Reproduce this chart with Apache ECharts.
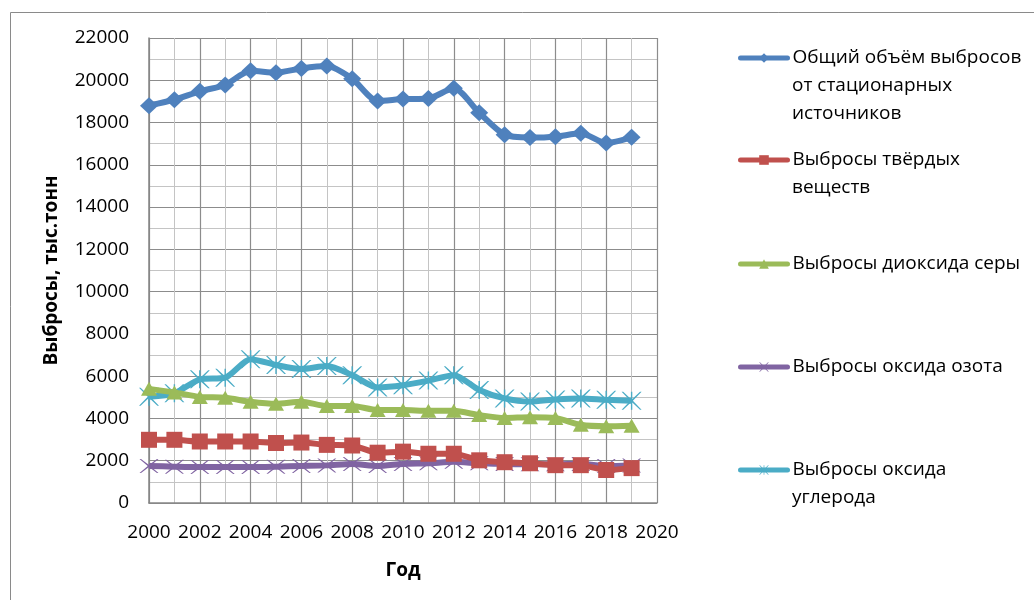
<!DOCTYPE html>
<html>
<head>
<meta charset="utf-8">
<script src="https://cdn.jsdelivr.net/npm/echarts@6/dist/echarts.min.js"></script>
<style>
  html, body { margin: 0; padding: 0; background: #fff; }
  #chart { width: 1034px; height: 600px; }
</style>
</head>
<body>
<div id="chart"></div>
<script>
const years = [2000, 2001, 2002, 2003, 2004, 2005, 2006, 2007, 2008, 2009,
  2010, 2011, 2012, 2013, 2014, 2015, 2016, 2017, 2018, 2019]

// выбросы, тыс. тонн
const total = [18800, 19080, 19480, 19780, 20450, 20360, 20560, 20670, 20070, 19020,
  19110, 19140, 19620, 18460, 17420, 17290, 17330, 17490, 17030, 17300]
const solids = [2990, 2990, 2910, 2910, 2910, 2840, 2860, 2750, 2720, 2380,
  2430, 2330, 2330, 2020, 1930, 1880, 1790, 1790, 1560, 1650]
const sulfur = [5400, 5230, 5020, 4980, 4790, 4690, 4790, 4590, 4590, 4400,
  4400, 4360, 4360, 4160, 4020, 4060, 4020, 3700, 3630, 3660]
const nitrogen = [1750, 1720, 1700, 1700, 1700, 1720, 1750, 1780, 1850, 1750,
  1850, 1880, 1950, 1880, 1850, 1830, 1830, 1850, 1750, 1780]
const carbon = [5030, 5190, 5850, 5930, 6800, 6530, 6340, 6480, 6050, 5470,
  5570, 5790, 6050, 5350, 4950, 4800, 4900, 4950, 4880, 4840]

const names = [
  'Общий объём выбросов\nот стационарных\nисточников',
  'Выбросы твёрдых\nвеществ',
  'Выбросы диоксида серы',
  'Выбросы оксида озота',
  'Выбросы оксида\nуглерода'
]
const colors = ['#4F81BD', '#C0504D', '#9BBB59', '#8064A2', '#4BACC6']
const values = [total, solids, sulfur, nitrogen, carbon]

const xPath = 'path://M0,0 L1.6,0 L10,6 L18.4,0 L20,0 L11.3,7 L20,14 L18.4,14 L10,8 L1.6,14 L0,14 L8.7,7 Z'
const starPath = 'path://M0,0 L1.6,0 L9.3,5.6 L9.3,0 L10.7,0 L10.7,5.6 L18.4,0 L20,0 L11.3,7 L20,14 L18.4,14 L10.7,8.4 L10.7,14 L9.3,14 L9.3,8.4 L1.6,14 L0,14 L8.7,7 Z'
const symbols = ['diamond', 'rect', 'triangle', xPath, starPath]
const symbolSizes = [[18, 17], [16, 16], [16, 14], [19, 14], [20, 18]]

const font = 'Open Sans'
const lineH = 28
const legendIconY = [58, 160, 264, 367, 470]

// легенда: первая строка подписи - в самой легенде, остальные строки - текстом ниже
const legends = names.map((name, i) => ({
  left: 738,
  top: legendIconY[i] - 14,
  padding: 0,
  itemWidth: 47,
  itemHeight: 12,
  selectedMode: false,
  data: [name],
  formatter: n => n.split('\n')[0],
  lineStyle: { width: 5, cap: 'round' },
  textStyle: {
    fontFamily: font,
    fontSize: 19,
    lineHeight: lineH,
    color: '#000'
  }
}))

const extraLines = []
names.forEach((name, i) => {
  name.split('\n').slice(1).forEach((t, k) => {
    extraLines.push({
      type: 'text',
      left: 792,
      top: legendIconY[i] + (k + 1) * lineH - 14,
      silent: true,
      style: {
        text: t,
        fontFamily: font,
        fontSize: 19,
        lineHeight: lineH,
        fill: '#000'
      }
    })
  })
})

const chart = echarts.init(document.getElementById('chart'))
chart.setOption({
  backgroundColor: '#fff',
  animation: false,
  graphic: [{
    type: 'rect',
    shape: { x: 10.5, y: 12.5, width: 1040, height: 620 },
    style: { fill: 'none', stroke: '#8a8a8a', lineWidth: 1 },
    silent: true
  }].concat(extraLines),
  legend: legends,
  grid: {
    left: 149,
    right: 377,
    top: 38,
    bottom: 97
  },
  xAxis: {
    type: 'value',
    min: 2000,
    max: 2020,
    interval: 2,
    name: 'Год',
    nameLocation: 'middle',
    nameGap: 58,
    nameTextStyle: { fontFamily: font, fontSize: 19, fontWeight: 'bold', color: '#000' },
    axisLine: { show: true, lineStyle: { color: '#868686', width: 1.5 } },
    axisTick: { show: false },
    axisLabel: {
      margin: 20,
      fontFamily: font,
      fontSize: 19,
      color: '#000',
      formatter: v => String(v)
    },
    splitLine: { show: true, lineStyle: { color: '#8c8c8c', width: 1.2 } },
    minorTick: { show: false, splitNumber: 2 },
    minorSplitLine: { show: true, lineStyle: { color: '#c4c4c4', width: 1 } }
  },
  yAxis: {
    type: 'value',
    min: 0,
    max: 22000,
    interval: 2000,
    name: 'Выбросы, тыс.тонн',
    nameLocation: 'middle',
    nameGap: 88,
    nameTextStyle: { fontFamily: font, fontSize: 19, fontWeight: 'bold', color: '#000' },
    axisLine: { show: true, lineStyle: { color: '#868686', width: 1.5 } },
    axisTick: { show: false },
    axisLabel: {
      margin: 20,
      fontFamily: font,
      fontSize: 19,
      color: '#000',
      formatter: v => String(v)
    },
    splitLine: { show: true, lineStyle: { color: '#8c8c8c', width: 1.2 } },
    minorTick: { show: false, splitNumber: 2 },
    minorSplitLine: { show: true, lineStyle: { color: '#c4c4c4', width: 1 } }
  },
  series: names.map((name, i) => ({
    name: name,
    type: 'line',
    smooth: 0.25,
    data: years.map((y, j) => [y, values[i][j]]),
    symbol: symbols[i],
    symbolSize: symbolSizes[i],
    lineStyle: { color: colors[i], width: 6 },
    itemStyle: { color: colors[i] },
    z: 2 + (4 - i)
  }))
})
</script>
</body>
</html>
